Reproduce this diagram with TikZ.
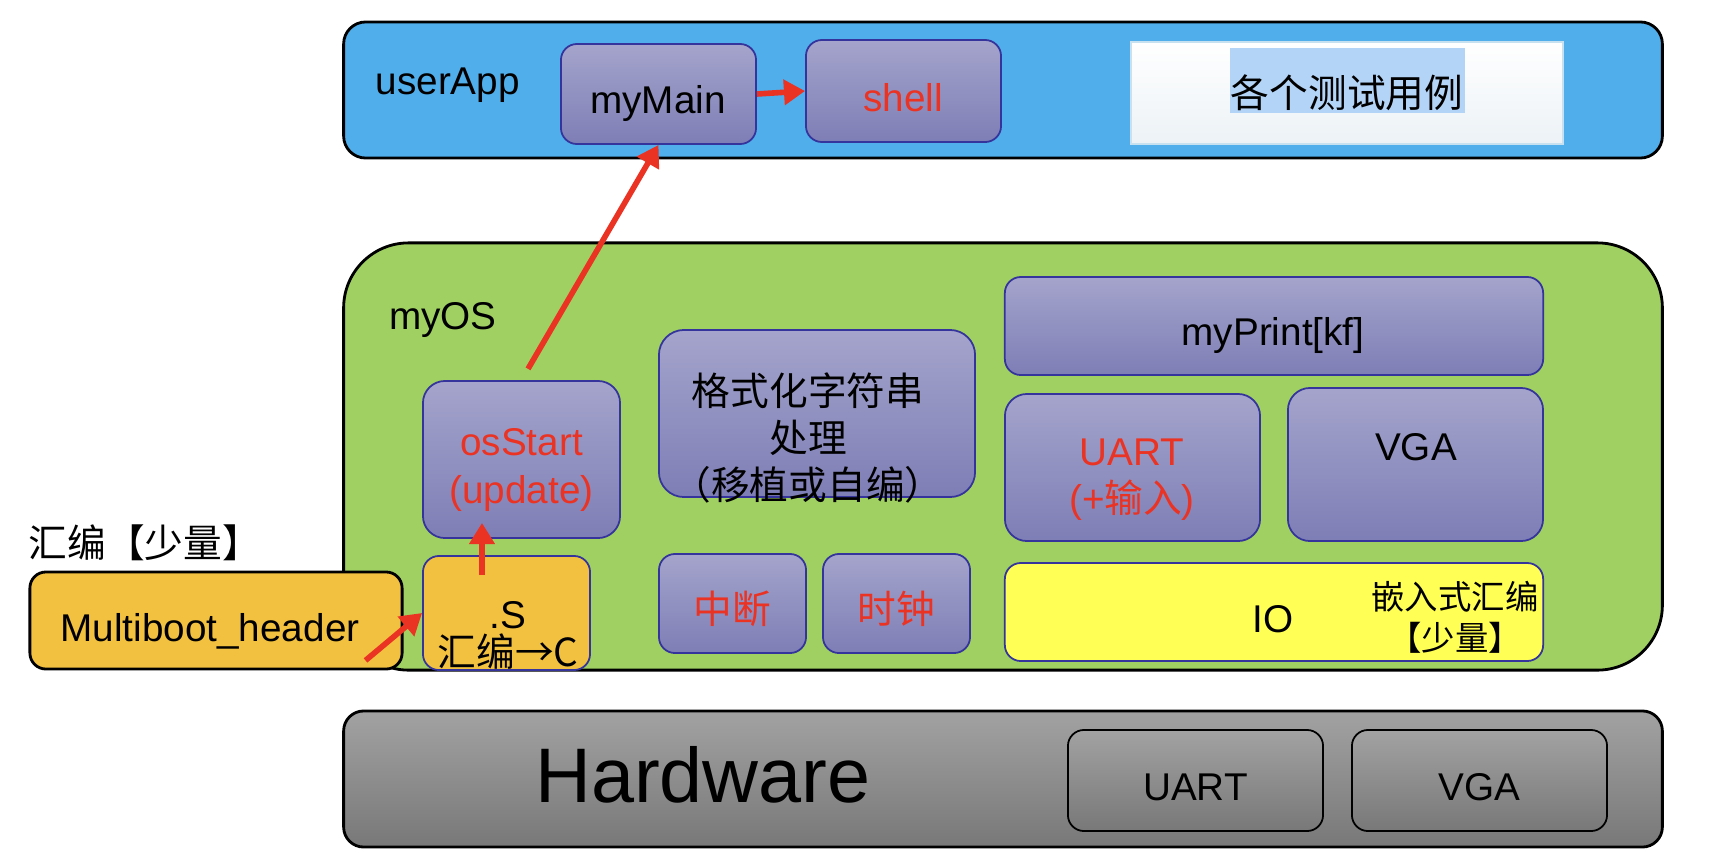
\documentclass[tikz,border=0pt]{standalone}
\usepackage{fontspec}
\setmainfont{Liberation Sans}
\newfontfamily\cjk{Noto Sans CJK SC}
\usetikzlibrary{arrows.meta}

\definecolor{appblue}{RGB}{80,174,235}
\definecolor{osgreen}{RGB}{160,208,98}
\definecolor{boxtop}{RGB}{164,164,204}
\definecolor{boxbot}{RGB}{126,126,182}
\definecolor{boxedge}{RGB}{52,52,156}
\definecolor{asmorange}{RGB}{243,193,64}
\definecolor{ioyellow}{RGB}{255,255,85}
\definecolor{hired}{RGB}{234,51,35}
\definecolor{hwtop}{RGB}{162,162,162}
\definecolor{hwbot}{RGB}{120,120,120}
\definecolor{hilite}{RGB}{180,212,247}
\definecolor{testedge}{RGB}{200,225,240}

\begin{document}
\begin{tikzpicture}[x=0.01cm, y=-0.01cm, inner sep=0pt,
  font=\fontsize{11pt}{13.4pt}\selectfont,
  layer/.style={draw=black, line width=0.8pt},
  pbox/.style={draw=boxedge, line width=0.5pt, rounded corners=0.16cm, top color=boxtop, bottom color=boxbot},
  hwbox/.style={draw=black, line width=0.5pt, rounded corners=0.16cm, top color=hwtop, bottom color=hwbot},
  lbl/.style={align=center},
  flow/.style={draw=hired, line width=1.6pt, -{Triangle[length=6pt,width=7pt]}}]
\useasboundingbox (0,0) rectangle (1714,866);

% three layers
\node[layer, fill=appblue, rounded corners=0.22cm, minimum width=13.18cm, minimum height=1.36cm] (userapp) at (1003,90) {};
\node[layer, fill=osgreen, rounded corners=0.65cm, minimum width=13.18cm, minimum height=4.27cm] (myos) at (1003,456.5) {};
\node[layer, top color=hwtop, bottom color=hwbot, rounded corners=0.2cm, minimum width=13.18cm, minimum height=1.36cm] (hardware) at (1003,779) {};

\node[lbl, anchor=west] (userapplbl) at (375,85) {userApp};
\node[lbl] (myoslbl) at (443,320) {myOS};
\node[lbl, font=\fontsize{22pt}{26pt}\selectfont] (hwlbl) at (703,775) {Hardware};

% userApp
\node[pbox, minimum width=1.95cm, minimum height=1cm] (mymain) at (658.5,94) {};
\node[lbl] (mymainlbl) at (658,103) {myMain};
\node[pbox, minimum width=1.95cm, minimum height=1.02cm] (shell) at (903.5,91) {};
\node[lbl, text=hired] (shelllbl) at (903,98) {shell};
\node[draw=testedge, line width=0.5pt, top color=white, bottom color={rgb,255:red,236;green,242;blue,246}, minimum width=4.32cm, minimum height=1.02cm] (tests) at (1347,93) {};
\node[fill=hilite, minimum width=2.35cm, minimum height=0.65cm] (testshl) at (1347.5,80.5) {};
\node[lbl] (testslbl) at (1347,93) {\cjk 各个测试用例};

% myOS
\node[pbox, rounded corners=0.22cm, minimum width=1.97cm, minimum height=1.57cm] (osstart) at (521.5,459.5) {};
\node[lbl, text=hired] (osstartlbl) at (521.5,470) {osStart\\(update)};
\node[draw=boxedge, line width=0.5pt, fill=asmorange, rounded corners=0.16cm, minimum width=1.67cm, minimum height=1.14cm] (asm) at (506.5,613) {};
\node[lbl, font=\fontsize{11pt}{10.8pt}\selectfont] (asmlbl) at (508,635) {.S\\{\cjk 汇编→C}};

\node[pbox, rounded corners=0.25cm, minimum width=3.16cm, minimum height=1.67cm] (fmt) at (817,413.5) {};
\node[lbl, font=\cjk\fontsize{11pt}{13.4pt}\selectfont] (fmtlbl) at (808,438) {格式化字符串\\处理\\（移植或自编）};
\node[pbox, minimum width=1.47cm, minimum height=0.99cm] (irq) at (732.5,603.5) {};
\node[lbl, text=hired] (irqlbl) at (732,609) {\cjk 中断};
\node[pbox, minimum width=1.47cm, minimum height=0.99cm] (clock) at (896.5,603.5) {};
\node[lbl, text=hired] (clocklbl) at (896,609) {\cjk 时钟};

\node[pbox, minimum width=5.38cm, minimum height=0.98cm] (myprint) at (1274,326) {};
\node[lbl] (myprintlbl) at (1273,335) {myPrint[kf]};
\node[pbox, rounded corners=0.22cm, minimum width=2.55cm, minimum height=1.47cm] (uart) at (1132.5,467.5) {};
\node[lbl, text=hired] (uartlbl) at (1132,480) {UART\\(+{\cjk 输入})};
\node[pbox, rounded corners=0.22cm, minimum width=2.55cm, minimum height=1.53cm] (vga) at (1415.5,464.5) {};
\node[lbl] (vgalbl) at (1416,447) {VGA};
\node[draw=boxedge, line width=0.5pt, fill=ioyellow, rounded corners=0.16cm, minimum width=5.38cm, minimum height=0.98cm] (io) at (1274,612) {};
\node[lbl] (iolbl) at (1273,619) {IO};
\node[lbl, font=\cjk\fontsize{9.5pt}{11.6pt}\selectfont] (inlinelbl) at (1455,617) {嵌入式汇编\\【少量】};

% boot header
\node[layer, fill=asmorange, rounded corners=0.16cm, minimum width=3.72cm, minimum height=0.97cm] (multiboot) at (216,620.5) {};
\node[lbl] (multibootlbl) at (210,631) {Multiboot\_header};
\node[lbl, anchor=west, font=\cjk\fontsize{11pt}{13pt}\selectfont] (bootasm) at (28,543) {汇编【少量】};

% hardware
\foreach \n/\x/\t in {hwuart/1195.5/UART, hwvga/1479.5/VGA}
{
\node[hwbox, minimum width=2.55cm, minimum height=1.01cm] (\n) at (\x,780.5) {};
\node[lbl] (\n lbl) at (\x,787) {\t};
}

% calls
\draw[flow] (mymain.east) -- (shell.west);
\draw[flow, shorten <=0.13cm] (osstart.north) -- (mymain.south);
\draw[flow] ([shift={(-24.5,20)}]asm.north) -- ([shift={(-39.5,-16)}]osstart.south);
\draw[flow] ([shift={(-38,-10)}]multiboot.south east) -- (asm.west);
\end{tikzpicture}
\end{document}
